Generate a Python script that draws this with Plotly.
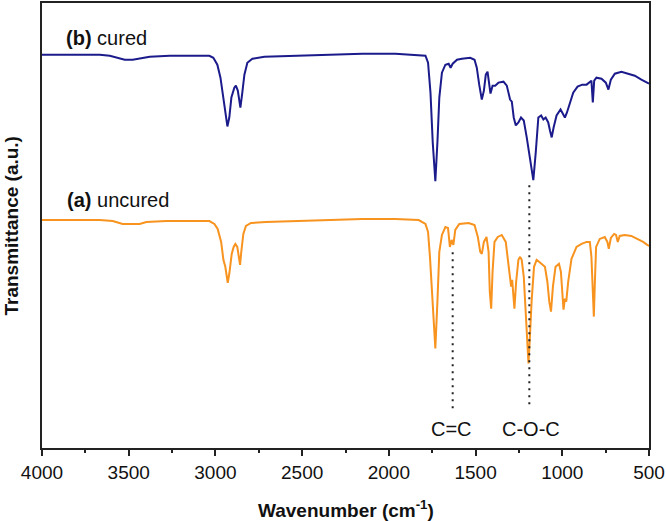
import plotly.graph_objects as go

# ---- data (wavenumber in cm-1, transmittance in a.u.) ----
cured_wn = [4000, 3667, 3609, 3563, 3523, 3477, 3437, 3379, 3264, 3092, 3035, 3012, 2989, 2971,
            2954, 2943, 2931, 2920, 2908, 2891, 2882, 2871, 2862, 2856, 2845, 2833, 2816, 2787,
            2718, 2517, 2345, 2153, 1962, 1828, 1789, 1774, 1760, 1747, 1732, 1720, 1709, 1694,
            1674, 1655, 1644, 1632, 1607, 1579, 1531, 1506, 1493, 1479, 1464, 1452, 1441, 1431,
            1421, 1414, 1402, 1387, 1368, 1339, 1320, 1301, 1291, 1280, 1268, 1253, 1238, 1222,
            1205, 1186, 1167, 1153, 1138, 1122, 1109, 1096, 1081, 1071, 1061, 1050, 1033, 1010,
            994, 985, 973, 956, 937, 912, 885, 860, 841, 832, 824, 816, 803, 774, 749, 734, 720,
            697, 659, 621, 582, 544, 511, 500]
cured_t = [395, 395, 394, 392, 390, 390, 391, 393, 394, 394, 394, 392, 385, 372,
           352, 337, 323, 332, 352, 362, 364, 359, 347, 342, 357, 375, 387, 391,
           393, 394, 395, 396, 396, 395, 394, 387, 357, 307, 268, 307, 352, 377,
           385, 386, 382, 386, 390, 391, 392, 390, 382, 365, 350, 359, 375, 378,
           365, 356, 364, 364, 367, 368, 364, 350, 348, 332, 324, 327, 332, 329,
           312, 289, 269, 297, 332, 334, 330, 332, 327, 319, 312, 322, 334, 340,
           334, 332, 337, 347, 357, 363, 365, 365, 368, 369, 347, 369, 372, 371, 367, 360, 370,
           376, 378, 376, 374, 370, 367, 366]

uncured_wn = [4000, 3667, 3592, 3535, 3477, 3437, 3398, 3283, 3092, 3035, 3006, 2987, 2967, 2954,
              2943, 2929, 2920, 2906, 2895, 2885, 2874, 2864, 2858, 2851, 2839, 2824, 2795, 2709,
              2517, 2345, 2153, 1962, 1828, 1789, 1774, 1763, 1747, 1732, 1720, 1709, 1694, 1674,
              1659, 1648, 1638, 1628, 1617, 1594, 1540, 1506, 1487, 1473, 1464, 1452, 1437, 1425,
              1418, 1410, 1402, 1391, 1372, 1349, 1326, 1310, 1301, 1295, 1289, 1282, 1276, 1266,
              1253, 1243, 1234, 1222, 1211, 1201, 1195, 1188, 1177, 1163, 1148, 1134, 1119, 1100,
              1086, 1075, 1065, 1054, 1039, 1019, 1008, 1000, 993, 985, 977, 966, 947, 918, 889,
              860, 841, 832, 824, 818, 812, 805, 784, 755, 740, 732, 720, 701, 690, 680, 669, 640,
              602, 563, 534, 510, 500]
uncured_t = [229, 229, 228, 225, 225, 225, 227, 228, 228, 228, 225, 220, 207, 189,
             182, 166, 175, 195, 202, 205, 202, 192, 184, 197, 215, 223, 226, 227,
             228, 229, 230, 230, 229, 225, 217, 192, 147, 100, 147, 197, 214, 222,
             221, 202, 209, 204, 219, 225, 226, 224, 212, 197, 195, 207, 212, 197,
             157, 140, 177, 207, 212, 214, 207, 185, 167, 162, 169, 152, 140, 167,
             189, 192, 189, 172, 137, 102, 85, 107, 147, 182, 189, 187, 185, 182,
             167, 147, 137, 162, 182, 185, 177, 157, 139, 150, 147, 167, 190, 202, 205,
             207, 207, 192, 157, 132, 167, 202, 210, 212, 207, 200, 211, 215, 214, 207, 213, 214,
             213, 210, 207, 204, 203]

# marker lines for band assignments
cc_wn = [1632, 1632]
cc_t = [40, 197]
coc_wn = [1190, 1190]
coc_t = [44, 265]

band_labels = ["C=C", "C-O-C"]
band_label_wn = [1637, 1180]
band_label_t = [19, 19]

x_ticks = [4000, 3500, 3000, 2500, 2000, 1500, 1000, 500]

FONT = "Arial, 'Liberation Sans', sans-serif"
BLUE = "#1b1b8c"
ORANGE = "#f7931e"

fig = go.Figure()
fig.add_trace(go.Scatter(x=uncured_wn, y=uncured_t, mode="lines",
                         line=dict(color=ORANGE, width=2), hoverinfo="skip"))
fig.add_trace(go.Scatter(x=cured_wn, y=cured_t, mode="lines",
                         line=dict(color=BLUE, width=2), hoverinfo="skip"))
fig.add_trace(go.Scatter(x=cc_wn, y=cc_t, mode="lines",
                         line=dict(color="#222222", width=2, dash="2px,5px"), hoverinfo="skip"))
fig.add_trace(go.Scatter(x=coc_wn, y=coc_t, mode="lines",
                         line=dict(color="#222222", width=2, dash="2px,5px"), hoverinfo="skip"))

for lab, xw, yt in zip(band_labels, band_label_wn, band_label_t):
    fig.add_annotation(x=xw, y=yt, text=lab, showarrow=False, xref="x", yref="y",
                       font=dict(size=20, color="#111111", family=FONT))

fig.add_annotation(x=3875, y=412, text="<b>(b)</b> cured", showarrow=False, xanchor="left",
                   font=dict(size=20, color="#111111", family=FONT))
fig.add_annotation(x=3865, y=249, text="<b>(a)</b> uncured", showarrow=False, xanchor="left",
                   font=dict(size=20, color="#111111", family=FONT))

fig.add_annotation(x=-0.051, y=0.5, xref="paper", yref="paper", text="<b>Transmittance (a.u.)</b>",
                   textangle=-90, showarrow=False, xanchor="center", yanchor="middle",
                   font=dict(size=19, color="#111111", family=FONT))
fig.add_annotation(x=0.5, y=-0.138, xref="paper", yref="paper",
                   text="<b>Wavenumber (cm<sup>-1</sup>)</b>",
                   showarrow=False, xanchor="center", yanchor="middle",
                   font=dict(size=19, color="#111111", family=FONT))

fig.update_layout(
    width=666, height=521,
    margin=dict(l=42, r=16, t=1, b=73),
    paper_bgcolor="white", plot_bgcolor="white",
    showlegend=False,
    font=dict(family=FONT, size=19, color="#111111"),
)
fig.update_xaxes(range=[4000, 500], tickmode="array", tickvals=x_ticks,
                 ticktext=[str(v) for v in x_ticks],
                 ticks="outside", ticklen=6, tickwidth=1.5, tickcolor="#222222",
                 minor=dict(ticks="outside", ticklen=3, tickwidth=1.5, tickcolor="#222222", dtick=250, tick0=0),
                 showline=True, linewidth=1.5, linecolor="#222222", mirror=True,
                 showgrid=False, zeroline=False,
                 tickfont=dict(size=19, family=FONT, color="#111111"))
fig.update_yaxes(range=[0, 447], showticklabels=False, ticks="",
                 showline=True, linewidth=1.5, linecolor="#222222", mirror=True,
                 showgrid=False, zeroline=False)

fig.write_html("out.html", config={"displayModeBar": False},
               post_script="document.body.style.margin='0px';document.body.style.overflow='hidden';")
